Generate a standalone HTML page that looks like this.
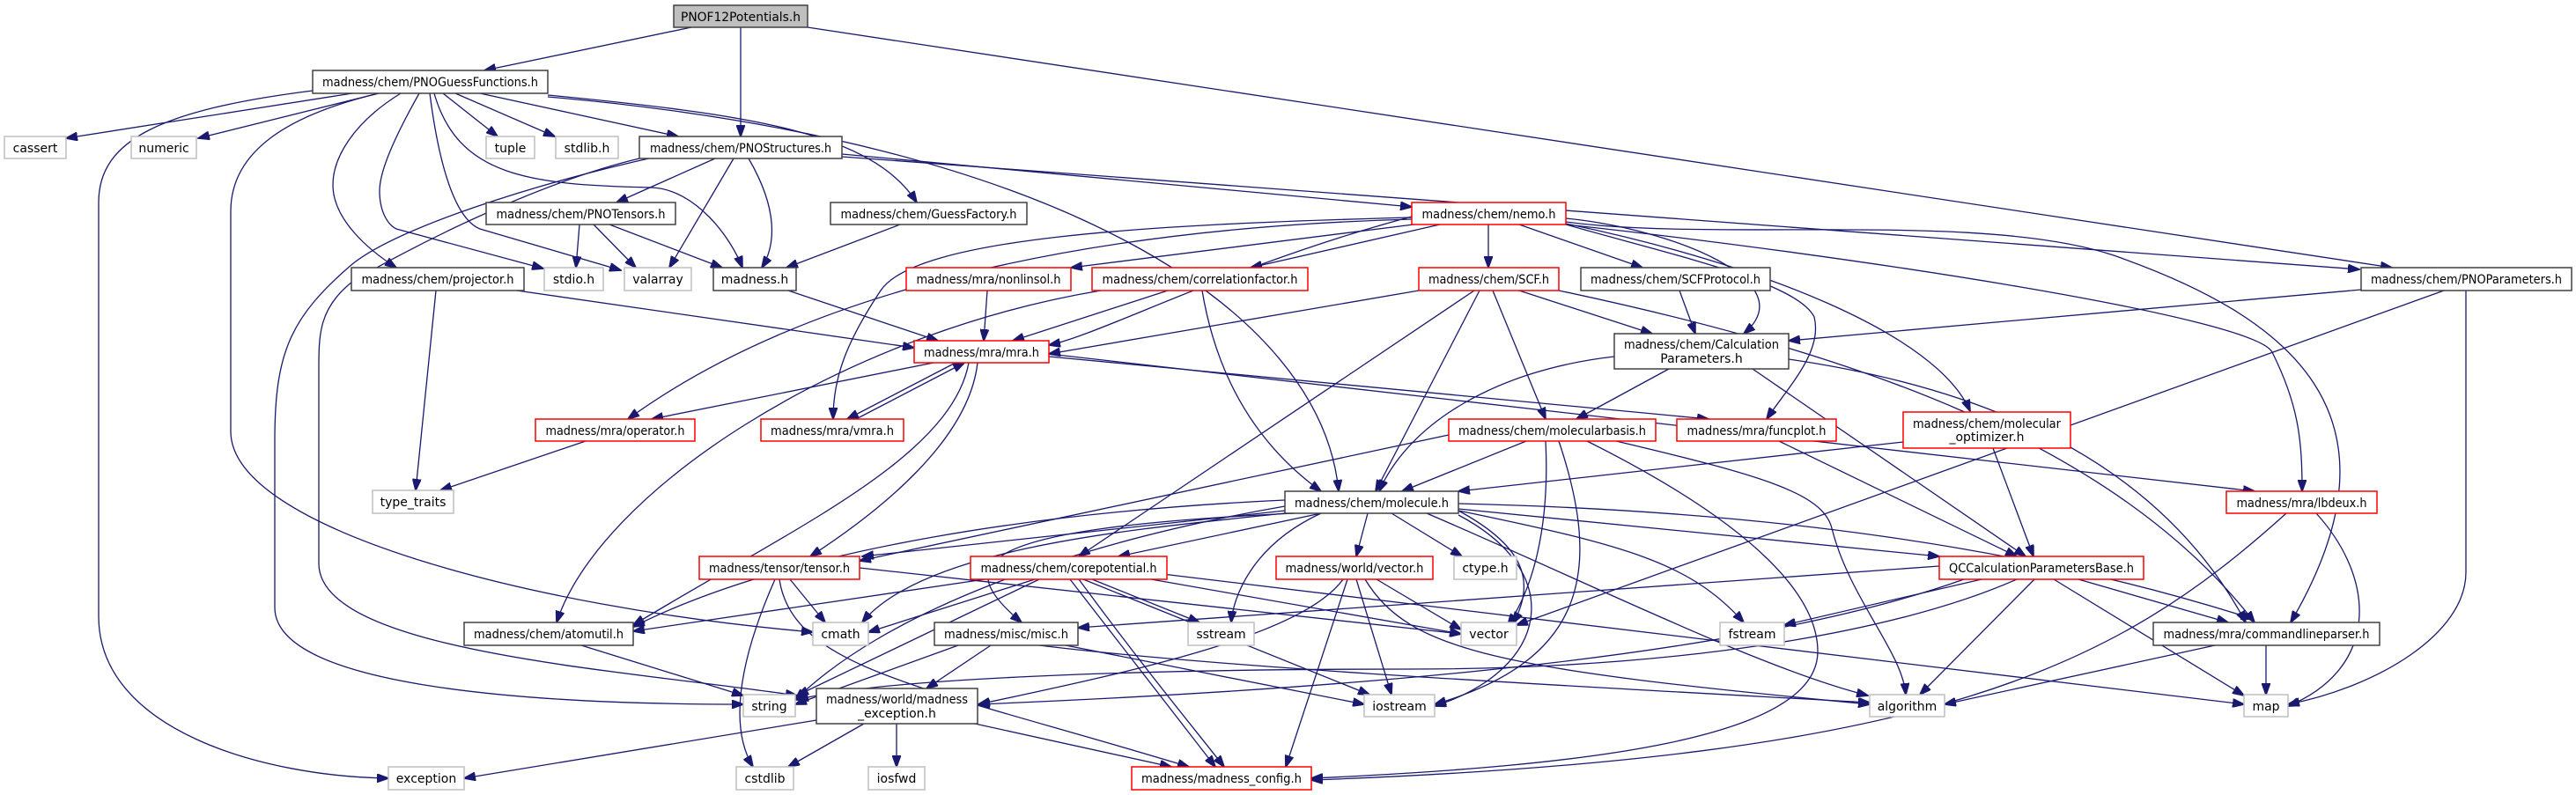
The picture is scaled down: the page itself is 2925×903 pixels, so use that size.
<!DOCTYPE html>
<html><head><meta charset="utf-8"><style>
html,body{margin:0;padding:0;background:#fff}
svg{display:block}
text{font-family:"DejaVu Sans","Liberation Sans",sans-serif;font-size:14px;fill:#000}
.e{fill:none;stroke:#191970;stroke-width:1.3}
.b{fill:#fff;stroke:#404040;stroke-width:1.5}
.r{fill:#fff;stroke:#ff0000;stroke-width:1.5}
.g{fill:#fff;stroke:#bfbfbf;stroke-width:1.5}
</style></head><body>
<svg width="2925" height="903" viewBox="0 0 2925 903" xmlns="http://www.w3.org/2000/svg">
<defs><marker id="a" markerUnits="userSpaceOnUse" markerWidth="14" markerHeight="10" refX="13" refY="5" orient="auto"><path d="M0,0L14,5L0,10z" fill="#191970" stroke="#191970"/></marker></defs>
<g class="e" marker-end="url(#a)">
<path d="M785,31L550,80"/>
<path d="M841,31L841,155"/>
<path d="M917,31L2716,304"/>
<path d="M400,106L75,157"/>
<path d="M430,106L225,157"/>
<path d="M503,106L565,155"/>
<path d="M517,106L630,155"/>
<path d="M545,106L770,155"/>
<path d="M355,103C180,125 112,160 112,230L112,700C112,830 300,882 441,884"/>
<path d="M430,106C330,130 262,170 262,240L262,490C262,600 600,690 923,718"/>
<path d="M455,106C400,140 378,180 378,210C378,250 420,285 450,304"/>
<path d="M476,106C440,170 431,200 431,217C431,240 440,255 450,260L617,305"/>
<path d="M488,106C500,200 520,250 545,260L705,307"/>
<path d="M493,106C520,200 600,210 740,213C790,215 830,270 843,304"/>
<path d="M622,110C1200,160 1500,350 1520,558"/>
<path d="M622,108C850,130 990,150 1041,230"/>
<path d="M812,180L700,230"/>
<path d="M833,180L760,304"/>
<path d="M850,180C885,240 880,280 865,304"/>
<path d="M750,177C600,210 450,260 400,300C330,360 312,400 312,500L312,690C312,780 600,800 844,800"/>
<path d="M726,180C600,210 450,290 400,320C362,350 362,380 362,420L362,640C362,740 700,760 905,790"/>
<path d="M956,175L1603,235"/>
<path d="M956,178L2679,306"/>
<path d="M658,255L654,304"/>
<path d="M674,255L722,304"/>
<path d="M692,255L820,304"/>
<path d="M1022,255L893,304"/>
<path d="M495,330L472,557"/>
<path d="M587,330L1038,395"/>
<path d="M895,330L1065,387"/>
<path d="M1121,330L1117,387"/>
<path d="M1326,330L1150,387"/>
<path d="M1250,330C950,380 680,560 632,707"/>
<path d="M1365,330C1380,420 1420,500 1500,558"/>
<path d="M1605,255L1216,304"/>
<path d="M1635,255L1420,304"/>
<path d="M1690,255L1690,304"/>
<path d="M1725,255L1865,304"/>
<path d="M1778,248C1900,260 2050,320 1980,379"/>
<path d="M1603,247C1300,255 1040,270 1000,330C960,390 946,430 946,476"/>
<path d="M1603,249C1200,260 900,340 713,476"/>
<path d="M1603,246C1400,300 1250,380 1191,392"/>
<path d="M1778,255C1900,290 2040,320 2060,360C2070,400 2030,440 2006,476"/>
<path d="M1778,255C2100,290 2560,360 2580,400C2610,460 2614,500 2614,558"/>
<path d="M1778,254C2000,300 2200,380 2237,467"/>
<path d="M1778,252C1950,275 2250,240 2400,290C2600,360 2740,470 2601,707"/>
<path d="M2681,329L2031,387"/>
<path d="M2775,330L1722,710"/>
<path d="M2800,330L2800,650C2800,720 2700,780 2598,800"/>
<path d="M1611,330L1191,402"/>
<path d="M1725,330L1876,379"/>
<path d="M1674,330L1225,632"/>
<path d="M1680,330L1562,558"/>
<path d="M1695,330L1755,476"/>
<path d="M1770,330C2100,400 2400,500 2560,707"/>
<path d="M1907,330L1925,379"/>
<path d="M1833,405C1700,420 1600,480 1566,558"/>
<path d="M1895,419L1790,476"/>
<path d="M1990,419L2300,632"/>
<path d="M2031,408C2250,440 2450,520 2550,707"/>
<path d="M1733,501L1592,558"/>
<path d="M1645,494L976,637"/>
<path d="M1755,501C1760,600 1740,670 1712,710"/>
<path d="M1770,501C1820,650 1800,750 1629,800"/>
<path d="M1802,501C2000,600 2064,680 2064,740C2064,840 1800,870 1489,884"/>
<path d="M1835,501C2000,540 2070,560 2080,600C2100,680 2160,740 2164,789"/>
<path d="M2020,501L2290,632"/>
<path d="M2263,509L2309,632"/>
<path d="M2161,502L1656,558"/>
<path d="M2596,583C2400,760 2200,860 1489,886"/>
<path d="M2630,583C2700,660 2700,760 2598,802"/>
<path d="M2360,658L2530,707"/>
<path d="M2332,658L2548,790"/>
<path d="M2310,658L2180,789"/>
<path d="M2250,658L2026,710"/>
<path d="M2202,643L1224,713"/>
<path d="M2290,658C2150,720 1900,760 1600,760C1300,760 1000,770 905,795"/>
<path d="M2230,658C2000,740 1600,780 1111,800"/>
<path d="M2573,733L2573,789"/>
<path d="M2515,733L2208,800"/>
<path d="M1553,583L1540,632"/>
<path d="M1580,583L1660,632"/>
<path d="M1656,580C1730,620 1745,660 1718,708"/>
<path d="M1656,585C1780,650 1760,760 1629,802"/>
<path d="M1656,580C1850,620 1920,640 1980,707"/>
<path d="M1656,578L2202,632"/>
<path d="M1656,572C2000,580 2300,620 2558,703"/>
<path d="M1620,583C1800,660 2000,760 2121,790"/>
<path d="M1500,583C1420,620 1400,680 1398,707"/>
<path d="M1459,583C1300,600 1050,620 979,707"/>
<path d="M1459,580L979,632"/>
<path d="M1500,583L1270,632"/>
<path d="M1470,583C1100,600 1080,640 1160,707"/>
<path d="M1459,575C1200,620 1000,700 903,795"/>
<path d="M1459,568C1200,580 900,620 719,712"/>
<path d="M1563,658L1659,715"/>
<path d="M1540,658L1580,789"/>
<path d="M1550,658C1600,740 1700,760 2123,800"/>
<path d="M1530,658L1460,871"/>
<path d="M1525,658C1480,720 1300,760 1111,800"/>
<path d="M1118,658L719,717"/>
<path d="M1175,658L986,718"/>
<path d="M1180,658L905,790"/>
<path d="M1240,658L1362,707"/>
<path d="M1290,655L1659,720"/>
<path d="M1230,658L1555,789"/>
<path d="M1215,658L1380,871"/>
<path d="M1225,658C1300,760 1350,820 1390,871"/>
<path d="M1320,652L2548,800"/>
<path d="M897,658L937,707"/>
<path d="M880,658C835,760 830,830 855,871"/>
<path d="M885,658C900,760 1050,780 1350,871"/>
<path d="M976,645L1659,720"/>
<path d="M1088,733L903,800"/>
<path d="M1125,733L1052,782"/>
<path d="M1210,733L1549,800"/>
<path d="M1180,733C1400,760 1800,780 2123,798"/>
<path d="M927,818L527,884"/>
<path d="M981,822L895,871"/>
<path d="M1018,822L1018,871"/>
<path d="M1107,822L1330,871"/>
<path d="M660,733L844,790"/>
<path d="M1060,412L740,476"/>
<path d="M1085,412L962,476"/>
<path d="M972,476L1095,412"/>
<path d="M1110,412C1100,500 1000,580 920,632"/>
<path d="M1100,412C1080,520 900,600 719,710"/>
<path d="M1191,405L1940,476"/>
<path d="M1191,402L2560,558"/>
<path d="M665,501L500,557"/>
</g>
<g>
<rect x="765" y="6" width="152" height="25" fill="#bfbfbf" stroke="#404040" stroke-width="1.5"/><text x="841" y="24" text-anchor="middle" textLength="136" lengthAdjust="spacingAndGlyphs">PNOF12Potentials.h</text>
<rect class="b" x="355" y="80" width="267" height="26"/><text x="488.5" y="98" text-anchor="middle" textLength="245" lengthAdjust="spacingAndGlyphs">madness/chem/PNOGuessFunctions.h</text>
<rect class="g" x="5" y="155" width="70" height="25"/><text x="40" y="173" text-anchor="middle">cassert</text>
<rect class="g" x="149" y="155" width="74" height="25"/><text x="186" y="173" text-anchor="middle">numeric</text>
<rect class="g" x="552" y="155" width="55" height="25"/><text x="579.5" y="173" text-anchor="middle">tuple</text>
<rect class="g" x="631" y="155" width="71" height="25"/><text x="666.5" y="173" text-anchor="middle">stdlib.h</text>
<rect class="b" x="726" y="155" width="230" height="25"/><text x="841" y="173" text-anchor="middle" textLength="206" lengthAdjust="spacingAndGlyphs">madness/chem/PNOStructures.h</text>
<rect class="b" x="552" y="230" width="215" height="25"/><text x="659.5" y="248" text-anchor="middle" textLength="192" lengthAdjust="spacingAndGlyphs">madness/chem/PNOTensors.h</text>
<rect class="b" x="943" y="230" width="223" height="25"/><text x="1054.5" y="248" text-anchor="middle" textLength="200" lengthAdjust="spacingAndGlyphs">madness/chem/GuessFactory.h</text>
<rect class="r" x="1603" y="230" width="175" height="25"/><text x="1690.5" y="248" text-anchor="middle" textLength="152" lengthAdjust="spacingAndGlyphs">madness/chem/nemo.h</text>
<rect class="b" x="399" y="304" width="196" height="26"/><text x="497" y="322" text-anchor="middle" textLength="173" lengthAdjust="spacingAndGlyphs">madness/chem/projector.h</text>
<rect class="g" x="618" y="304" width="67" height="26"/><text x="651.5" y="322" text-anchor="middle">stdio.h</text>
<rect class="g" x="709" y="304" width="76" height="26"/><text x="747" y="322" text-anchor="middle">valarray</text>
<rect class="b" x="810" y="304" width="94" height="26"/><text x="857" y="322" text-anchor="middle">madness.h</text>
<rect class="r" x="1029" y="304" width="187" height="26"/><text x="1122.5" y="322" text-anchor="middle" textLength="164" lengthAdjust="spacingAndGlyphs">madness/mra/nonlinsol.h</text>
<rect class="r" x="1240" y="304" width="245" height="26"/><text x="1362.5" y="322" text-anchor="middle" textLength="222" lengthAdjust="spacingAndGlyphs">madness/chem/correlationfactor.h</text>
<rect class="r" x="1611" y="304" width="159" height="26"/><text x="1690.5" y="322" text-anchor="middle" textLength="137" lengthAdjust="spacingAndGlyphs">madness/chem/SCF.h</text>
<rect class="b" x="1795" y="304" width="215" height="26"/><text x="1902.5" y="322" text-anchor="middle" textLength="193" lengthAdjust="spacingAndGlyphs">madness/chem/SCFProtocol.h</text>
<rect class="b" x="2681" y="304" width="239" height="26"/><text x="2800.5" y="322" text-anchor="middle" textLength="217" lengthAdjust="spacingAndGlyphs">madness/chem/PNOParameters.h</text>
<rect class="b" x="1833" y="379" width="198" height="40"/><text x="1932" y="396" text-anchor="middle" textLength="176" lengthAdjust="spacingAndGlyphs">madness/chem/Calculation</text><text x="1932" y="412" text-anchor="middle">Parameters.h</text>
<rect class="r" x="1038" y="387" width="153" height="25"/><text x="1114.5" y="405" text-anchor="middle" textLength="131" lengthAdjust="spacingAndGlyphs">madness/mra/mra.h</text>
<rect class="r" x="608" y="476" width="181" height="25"/><text x="698.5" y="494" text-anchor="middle" textLength="158" lengthAdjust="spacingAndGlyphs">madness/mra/operator.h</text>
<rect class="r" x="864" y="476" width="162" height="25"/><text x="945" y="494" text-anchor="middle" textLength="140" lengthAdjust="spacingAndGlyphs">madness/mra/vmra.h</text>
<rect class="r" x="1645" y="476" width="235" height="25"/><text x="1762.5" y="494" text-anchor="middle" textLength="213" lengthAdjust="spacingAndGlyphs">madness/chem/molecularbasis.h</text>
<rect class="r" x="1904" y="476" width="181" height="25"/><text x="1994.5" y="494" text-anchor="middle" textLength="158" lengthAdjust="spacingAndGlyphs">madness/mra/funcplot.h</text>
<rect class="r" x="2161" y="468" width="190" height="41"/><text x="2256" y="486" text-anchor="middle" textLength="168" lengthAdjust="spacingAndGlyphs">madness/chem/molecular</text><text x="2256" y="501" text-anchor="middle">_optimizer.h</text>
<rect class="g" x="423" y="557" width="92" height="26"/><text x="469" y="575" text-anchor="middle">type_traits</text>
<rect class="b" x="1459" y="558" width="197" height="25"/><text x="1557.5" y="576" text-anchor="middle" textLength="175" lengthAdjust="spacingAndGlyphs">madness/chem/molecule.h</text>
<rect class="r" x="2528" y="558" width="171" height="25"/><text x="2613.5" y="576" text-anchor="middle" textLength="148" lengthAdjust="spacingAndGlyphs">madness/mra/lbdeux.h</text>
<rect class="r" x="794" y="632" width="182" height="26"/><text x="885" y="650" text-anchor="middle" textLength="160" lengthAdjust="spacingAndGlyphs">madness/tensor/tensor.h</text>
<rect class="r" x="1102" y="632" width="223" height="26"/><text x="1213.5" y="650" text-anchor="middle" textLength="200" lengthAdjust="spacingAndGlyphs">madness/chem/corepotential.h</text>
<rect class="r" x="1449" y="632" width="178" height="26"/><text x="1538" y="650" text-anchor="middle" textLength="157" lengthAdjust="spacingAndGlyphs">madness/world/vector.h</text>
<rect class="g" x="1651" y="632" width="71" height="26"/><text x="1686.5" y="650" text-anchor="middle">ctype.h</text>
<rect class="r" x="2202" y="632" width="232" height="26"/><text x="2318" y="650" text-anchor="middle" textLength="210" lengthAdjust="spacingAndGlyphs">QCCalculationParametersBase.h</text>
<rect class="b" x="527" y="707" width="192" height="26"/><text x="623" y="725" text-anchor="middle" textLength="170" lengthAdjust="spacingAndGlyphs">madness/chem/atomutil.h</text>
<rect class="g" x="923" y="707" width="63" height="26"/><text x="954.5" y="725" text-anchor="middle">cmath</text>
<rect class="b" x="1061" y="707" width="163" height="26"/><text x="1142.5" y="725" text-anchor="middle" textLength="141" lengthAdjust="spacingAndGlyphs">madness/misc/misc.h</text>
<rect class="g" x="1349" y="707" width="75" height="26"/><text x="1386.5" y="725" text-anchor="middle">sstream</text>
<rect class="g" x="1659" y="707" width="63" height="26"/><text x="1690.5" y="725" text-anchor="middle">vector</text>
<rect class="g" x="1953" y="707" width="73" height="26"/><text x="1989.5" y="725" text-anchor="middle">fstream</text>
<rect class="b" x="2445" y="707" width="257" height="26"/><text x="2573.5" y="725" text-anchor="middle" textLength="234" lengthAdjust="spacingAndGlyphs">madness/mra/commandlineparser.h</text>
<rect class="g" x="844" y="789" width="59" height="25"/><text x="873.5" y="807" text-anchor="middle">string</text>
<rect class="b" x="927" y="782" width="183" height="40"/><text x="1018.5" y="799" text-anchor="middle" textLength="161" lengthAdjust="spacingAndGlyphs">madness/world/madness</text><text x="1018.5" y="815" text-anchor="middle">_exception.h</text>
<rect class="g" x="1549" y="789" width="80" height="25"/><text x="1589" y="807" text-anchor="middle">iostream</text>
<rect class="g" x="2123" y="789" width="85" height="25"/><text x="2165.5" y="807" text-anchor="middle">algorithm</text>
<rect class="g" x="2548" y="789" width="50" height="25"/><text x="2573" y="807" text-anchor="middle">map</text>
<rect class="g" x="441" y="871" width="86" height="26"/><text x="484" y="889" text-anchor="middle">exception</text>
<rect class="g" x="836" y="871" width="65" height="26"/><text x="868.5" y="889" text-anchor="middle">cstdlib</text>
<rect class="g" x="986" y="871" width="64" height="26"/><text x="1018" y="889" text-anchor="middle">iosfwd</text>
<rect class="r" x="1285" y="871" width="204" height="26"/><text x="1387" y="889" text-anchor="middle" textLength="182" lengthAdjust="spacingAndGlyphs">madness/madness_config.h</text>
</g>
</svg>
</body></html>
